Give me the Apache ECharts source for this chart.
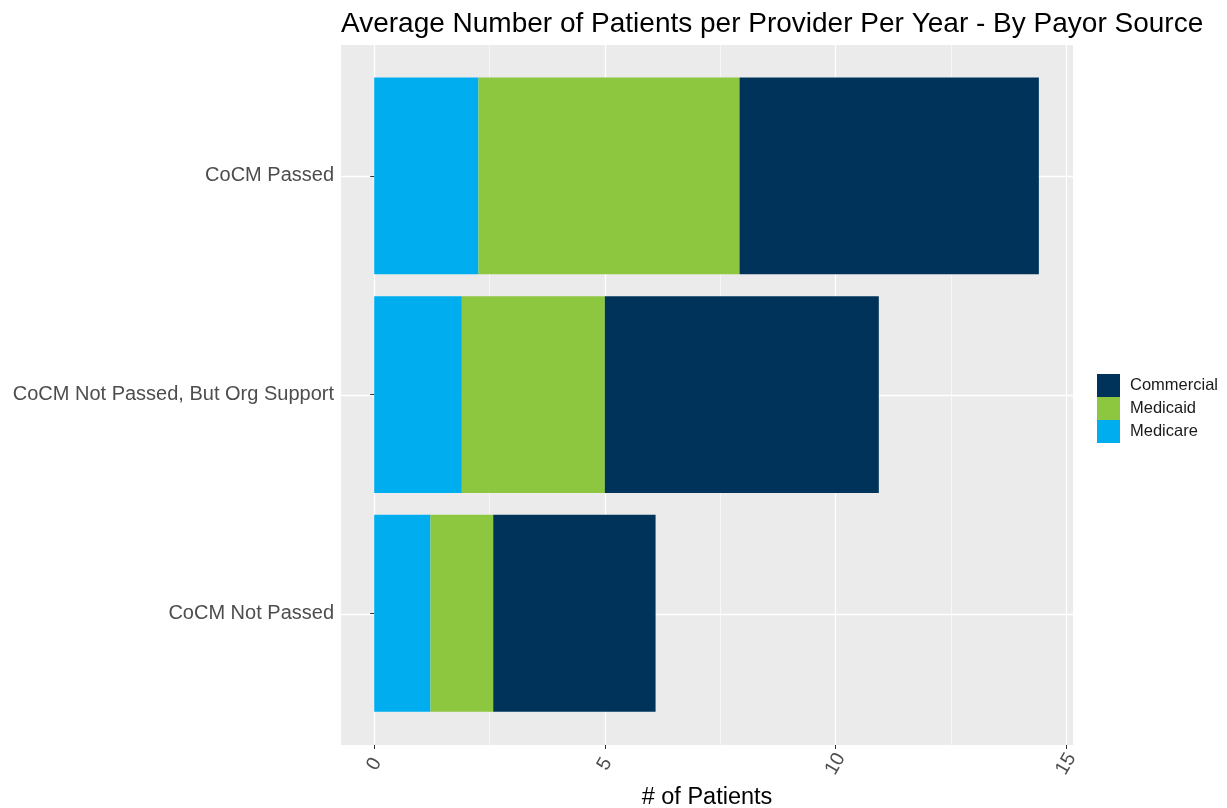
<!DOCTYPE html>
<html>
<head>
<meta charset="utf-8">
<script src="https://cdn.jsdelivr.net/npm/echarts@6/dist/echarts.min.js"></script>
<style>
html,body{margin:0;padding:0;background:#fff;}
#chart{width:1227px;height:808px;}
</style>
</head>
<body>
<div id="chart"></div>
<script>
const categories = ['CoCM Passed', 'CoCM Not Passed, But Org Support', 'CoCM Not Passed'];
const medicare = [2.26, 1.90, 1.22];
const medicaid = [5.66, 3.10, 1.36];
const commercial = [6.49, 5.94, 3.52];
const xMajorTicks = [0, 5, 10, 15];
const xMinorTicks = [2.5, 7.5, 12.5];
const categoryPositions = [1, 2, 3];
const xMin = -0.72, xMax = 15.15;

const chart = echarts.init(document.getElementById('chart'), null, {renderer: 'canvas'});
const FONT = 'Liberation Sans, Arial, sans-serif';

const option = {
  animation: false,
  backgroundColor: '#ffffff',
  title: {
    text: 'Average Number of Patients per Provider Per Year - By Payor Source',
    left: 336, top: 5,
    textStyle: {fontFamily: FONT, fontSize: 28, fontWeight: 'normal', color: '#000'}
  },
  legend: {
    orient: 'vertical', left: 1092, top: 369,
    itemWidth: 23, itemHeight: 23, itemGap: 0,
    icon: 'rect',
    data: ['Commercial', 'Medicaid', 'Medicare'],
    textStyle: {fontFamily: FONT, fontSize: 16.5, color: '#1a1a1a', padding: [0, 0, 0, 5]}
  },
  grid: [
    {left: 341, top: 45, width: 732, height: 700, show: true, backgroundColor: '#EBEBEB', borderWidth: 0,
     containLabel: false, outerBoundsMode: 'none'},
    {left: 341, top: 66.6, width: 732, height: 656, show: false, containLabel: false, outerBoundsMode: 'none'}
  ],
  xAxis: [
    {
      type: 'value', gridIndex: 0, min: xMin, max: xMax,
      axisLine: {show: false},
      axisTick: {show: true, length: 4, lineStyle: {color: '#333', width: 1}, customValues: xMajorTicks},
      axisLabel: {
        show: true, customValues: xMajorTicks, rotate: 60, align: 'center', verticalAlign: 'middle',
        margin: 19, fontFamily: FONT, fontSize: 19.5, color: '#4D4D4D'
      },
      splitLine: {show: true, lineStyle: {color: '#ffffff', width: 1.3}},
      name: '# of Patients', nameLocation: 'middle', nameGap: 39,
      nameTextStyle: {fontFamily: FONT, fontSize: 23.5, color: '#000'}
    },
    {
      type: 'value', gridIndex: 0, min: xMin, max: xMax,
      axisLine: {show: false},
      axisTick: {show: false, customValues: xMinorTicks},
      axisLabel: {show: false, customValues: xMinorTicks},
      splitLine: {show: true, lineStyle: {color: '#ffffff', width: 0.6}}
    },
    {
      type: 'value', gridIndex: 1, min: xMin, max: xMax, show: false,
      splitLine: {show: false}
    }
  ],
  yAxis: [
    {
      type: 'value', gridIndex: 0, min: 0.4, max: 3.6, inverse: true,
      axisLine: {show: false},
      axisTick: {show: false, customValues: categoryPositions},
      axisLabel: {show: false, customValues: categoryPositions},
      splitLine: {show: true, lineStyle: {color: '#ffffff', width: 1.3}}
    },
    {
      type: 'category', gridIndex: 1, data: categories, inverse: true,
      axisLine: {show: false},
      axisTick: {show: true, alignWithLabel: true, length: 4, lineStyle: {color: '#333', width: 1}},
      axisLabel: {margin: 7, fontFamily: FONT, fontSize: 20, color: '#4D4D4D'},
      splitLine: {show: false}
    }
  ],
  series: [
    {name: 'Medicare', type: 'bar', stack: 'total', xAxisIndex: 2, yAxisIndex: 1, barCategoryGap: '10%',
     itemStyle: {color: '#00AEEF'}, data: medicare},
    {name: 'Medicaid', type: 'bar', stack: 'total', xAxisIndex: 2, yAxisIndex: 1, barCategoryGap: '10%',
     itemStyle: {color: '#8DC63F'}, data: medicaid},
    {name: 'Commercial', type: 'bar', stack: 'total', xAxisIndex: 2, yAxisIndex: 1, barCategoryGap: '10%',
     itemStyle: {color: '#003359'}, data: commercial}
  ]
};
chart.setOption(option);
</script>
</body>
</html>
